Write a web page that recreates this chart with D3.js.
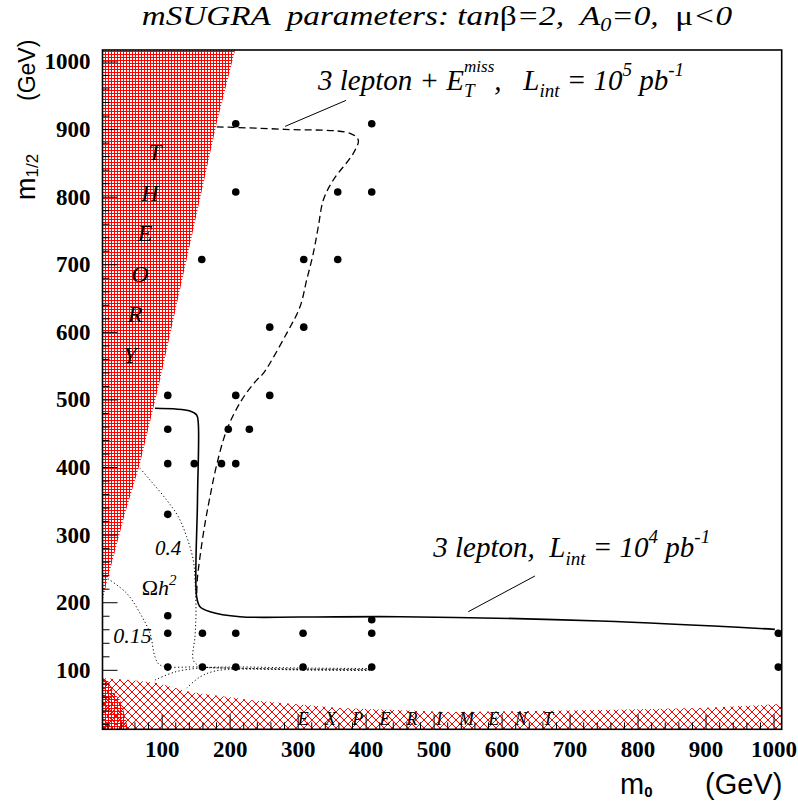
<!DOCTYPE html>
<html>
<head>
<meta charset="utf-8">
<script src="https://cdn.jsdelivr.net/npm/d3@7"></script>
<style>
  body { margin: 0; background: #fff; }
  svg text { white-space: pre; }
</style>
</head>
<body>
<svg id="chart" width="798" height="803"></svg>
<script>
// axis ticks (GeV)
const xTicks = [100, 200, 300, 400, 500, 600, 700, 800, 900, 1000];
const yTicks = [100, 200, 300, 400, 500, 600, 700, 800, 900, 1000];
const minorTicks = d3.range(20, 1001, 20).filter(d => d % 100 !== 0);

// simulated points [m0, m1/2]
const points = [
  [209, 908], [409, 908],
  [209, 807], [359, 807], [409, 807],
  [159, 707], [309, 707], [359, 707],
  [259, 607], [309, 607],
  [109, 506], [209, 506], [259, 506],
  [109, 456], [198, 456], [229, 456],
  [109, 405], [148, 405], [188, 405], [209, 405],
  [109, 330],
  [109, 180], [409, 174],
  [109, 154], [160, 154], [209, 154], [308, 154], [409, 154], [1007, 154],
  [109, 104], [160, 104], [209, 104], [308, 104], [409, 104], [1007, 104]
];

// theoretically excluded region (upper left) and corner
const theoryRegion = [[13, 1017], [208, 1017], [181, 909], [97.6, 528.7], [68.2, 405.5],
  [46.1, 331.5], [19.2, 229.7], [13, 200.8]];
const theoryCorner = [[13, 12], [13, 87.9], [21.1, 83.4], [28.4, 67.2], [38.7, 55.3],
  [44.6, 37.6], [50.5, 12]];

// experimentally excluded region (bottom), upper edge
const experimentEdge = [[13, 87.9], [53, 85], [93, 80.5], [142, 67.2], [230, 55.3],
  [362, 43.5], [524, 37.6], [745, 40.5], [892, 43.5], [1012, 49.4]];

// 3 lepton, L = 10^4 pb^-1 (solid)
const lepton3 = [[90.2, 486.9], [141.7, 482.9], [151.5, 477], [153.9, 464.7], [152.7, 351],
  [151.5, 208], [156.4, 193.4], [171.1, 186], [215.2, 178.6], [303.4, 178.1],
  [450.6, 178.6], [744.7, 172.2], [1002, 159.9]];

// 3 lepton + ETmiss, L = 10^5 pb^-1 (dashed)
const lepton3Miss = [[181, 903.4], [205.4, 902.5], [281.4, 899.6], [377, 893.7], [389.2, 883.8],
  [381.9, 864.1], [352.5, 824.7], [337.8, 795.1], [330.4, 755.5], [323, 716.1],
  [313.3, 676.7], [303.5, 637.1], [283.9, 597.8], [249.5, 538.6], [239.8, 528.7],
  [217.7, 499.1], [195.7, 454.7], [180.9, 403], [171.1, 356.1], [163.8, 316.7],
  [156.4, 267.3], [152.4, 232.9], [151.5, 208.2]];

// Omega h^2 contours (dotted)
const omega04 = [[68.2, 398.1], [82.9, 380.8], [107.4, 351.2], [124.5, 326.5], [136.8, 296.9],
  [146.5, 262.4], [149, 232.9], [150.5, 183.6], [149, 149], [146.5, 114.5],
  [156.4, 105.6], [207.9, 102.7], [303.5, 101.2], [406.4, 100.5]];
const omega015 = [[16.7, 237.7], [48.6, 213.2], [68.2, 183.6], [82.9, 154], [90.2, 119.4],
  [97.6, 107.1], [156.4, 104.2], [207.9, 101.9], [303.5, 100.5], [406.4, 99.7]];
const omegaLowA = [[90.2, 84.9], [119.6, 96.8], [156.4, 102.7], [207.9, 104.2], [303.5, 102.7], [406.4, 101.9]];
const omegaLowB = [[136.8, 73.1], [156.4, 89.4], [178.5, 98.2], [219.6, 101.2], [303.5, 99.7], [406.4, 98.9]];

// label leader lines
const leader4 = [[551, 186], [649, 238.8]];
const leader5 = [[281.6, 904], [371.3, 942.5]];

const SERIF = "Liberation Serif, Times New Roman, Times, serif";
const SANS = "Liberation Sans, Arial, Helvetica, sans-serif";

const svg = d3.select("#chart");
const x = d3.scaleLinear().domain([13, 1012]).range([102.5, 781.7]);
const y = d3.scaleLinear().domain([12, 1017]).range([729.3, 50]);
const [x0, x1] = x.range();
const [y0, y1] = y.range();

// patterns
const defs = svg.append("defs");
const grid = defs.append("pattern").attr("id", "grid")
  .attr("patternUnits", "userSpaceOnUse").attr("width", 3).attr("height", 3);
grid.append("path").attr("d", "M0,0.5H3M0.5,0V3")
  .attr("stroke", "#ff0000").attr("stroke-width", 1).attr("shape-rendering", "crispEdges");
const cross = defs.append("pattern").attr("id", "cross")
  .attr("patternUnits", "userSpaceOnUse").attr("width", 8).attr("height", 8);
cross.append("path").attr("d", "M0,0L8,8M8,0L0,8")
  .attr("stroke", "#ff0000").attr("stroke-width", 1);

defs.append("clipPath").attr("id", "plotClip").append("rect")
  .attr("x", x0).attr("y", y1).attr("width", x1 - x0).attr("height", y0 - y1);

const plot = svg.append("g").attr("clip-path", "url(#plotClip)");

const area = d3.line().x(d => x(d[0])).y(d => y(d[1]));
const smooth = d3.line().x(d => x(d[0])).y(d => y(d[1])).curve(d3.curveCatmullRom.alpha(0.5));

// experiment region
const expPoly = experimentEdge.concat([[1012, 12], [13, 12]]);
plot.append("path").attr("d", area(expPoly) + "Z").attr("fill", "url(#cross)");

// theory regions
plot.append("path").attr("d", area(theoryRegion) + "Z").attr("fill", "url(#grid)");
plot.append("path").attr("d", area(theoryCorner) + "Z").attr("fill", "url(#grid)");

// contours
[omega04, omega015, omegaLowA, omegaLowB].forEach(c => {
  plot.append("path").attr("d", smooth(c)).attr("fill", "none")
    .attr("stroke", "#000").attr("stroke-width", 1).attr("stroke-dasharray", "1.2,2.4");
});
plot.append("path").attr("d", smooth(lepton3Miss)).attr("fill", "none")
  .attr("stroke", "#000").attr("stroke-width", 1.3).attr("stroke-dasharray", "7,4");
plot.append("path").attr("d", smooth(lepton3)).attr("fill", "none")
  .attr("stroke", "#000").attr("stroke-width", 1.6);

[leader4, leader5].forEach(l => {
  plot.append("path").attr("d", area(l)).attr("stroke", "#000").attr("stroke-width", 1);
});

// points
plot.selectAll("circle.pt").data(points).enter().append("circle")
  .attr("class", "pt")
  .attr("cx", d => x(d[0])).attr("cy", d => y(d[1])).attr("r", 3.8).attr("fill", "#000");

// rich text helper: pieces laid out one after another
function rich(parent, px, py, size, parts) {
  let cx = px, held = 0;
  parts.forEach(p => {
    const el = parent.append("text")
      .attr("x", cx).attr("y", py + (p.dy || 0))
      .style("font-family", p.fam || SERIF)
      .style("font-style", p.up ? "normal" : "italic")
      .style("font-weight", p.weight || "normal")
      .style("font-size", (p.size || size) + "px")
      .attr("fill", "#000")
      .text(p.t);
    const w = el.node().getComputedTextLength();
    if (p.stack) { held = w; }
    else { cx += Math.max(w, held); held = 0; }
  });
}

// title (reference glyphs are wider than Times, so stretch horizontally)
const titleG = svg.append("g").attr("transform", "translate(141.7,0) scale(1.23,1) translate(-141.7,0)");
rich(titleG, 141.7, 25, 27, [
  {t: "mSUGRA  parameters: tan"}, {t: "β", up: true}, {t: "=2,  A"},
  {t: "0", size: 18, dy: 6}, {t: "=0,  "}, {t: "μ", up: true}, {t: "<0"}
]);

// curve labels
rich(svg, 318, 90, 29, [
  {t: "3 lepton + E"}, {t: "miss", size: 17, dy: -18, stack: true}, {t: "T", size: 19, dy: 7},
  {t: ",   L"}, {t: "int", size: 19, dy: 7}, {t: " = 10"}, {t: "5", size: 19, dy: -14},
  {t: " pb"}, {t: "-1", size: 19, dy: -14}
]);
rich(svg, 433.3, 556.7, 29, [
  {t: "3 lepton,  L"}, {t: "int", size: 19, dy: 8}, {t: " = 10"}, {t: "4", size: 19, dy: -14},
  {t: " pb"}, {t: "-1", size: 19, dy: -14}
]);
rich(svg, 155, 555, 21, [{t: "0.4"}]);
rich(svg, 113.3, 643.3, 22, [{t: "0.15"}]);
rich(svg, 141.7, 595, 22, [{t: "Ω", up: true}, {t: "h"}, {t: "2", size: 15, dy: -10}]);

// region names
const theoryLetters = "THEORY".split("");
svg.selectAll("text.th").data(theoryLetters).enter().append("text")
  .attr("class", "th")
  .attr("x", (d, i) => 155 - i * 5).attr("y", (d, i) => 160 + i * 40.6)
  .attr("text-anchor", "middle").style("font-family", SERIF).style("font-style", "italic")
  .style("font-size", "24px").text(d => d);
const expLetters = "EXPERIMENT".split("");
svg.selectAll("text.ex").data(expLetters).enter().append("text")
  .attr("class", "ex")
  .attr("x", (d, i) => 303.3 + i * 27.2).attr("y", 725)
  .attr("text-anchor", "middle").style("font-family", SERIF).style("font-style", "italic")
  .style("font-size", "18px").text(d => d);

// axes (ticks inside the frame)
function styleAxis(g) {
  g.select(".domain").remove();
  g.selectAll("line").attr("stroke", "#000").attr("stroke-width", 1);
  g.selectAll("text").style("font-family", SERIF).style("font-weight", "bold")
    .style("font-size", "23px").attr("fill", "#000");
}
svg.append("g").attr("transform", `translate(0,${y0})`)
  .call(d3.axisBottom(x).tickValues(minorTicks).tickSize(-7).tickFormat(""))
  .call(styleAxis);
svg.append("g").attr("transform", `translate(0,${y0})`)
  .call(d3.axisBottom(x).tickValues(xTicks).tickSize(-15).tickPadding(11).tickFormat(d3.format("d")))
  .call(styleAxis);
svg.append("g").attr("transform", `translate(${x0},0)`)
  .call(d3.axisLeft(y).tickValues(minorTicks).tickSize(-7).tickFormat(""))
  .call(styleAxis);
svg.append("g").attr("transform", `translate(${x0},0)`)
  .call(d3.axisLeft(y).tickValues(yTicks).tickSize(-15).tickPadding(12).tickFormat(d3.format("d")))
  .call(styleAxis);

// frame
svg.append("rect").attr("x", x0).attr("y", y1).attr("width", x1 - x0).attr("height", y0 - y1)
  .attr("fill", "none").attr("stroke", "#000").attr("stroke-width", 1.6);

// axis titles
rich(svg, 620, 794, 29, [
  {t: "m", up: true, fam: SANS}, {t: "0", up: true, fam: SANS, weight: "bold", size: 15, dy: 3}
]);
rich(svg, 705, 794, 29, [{t: "(GeV)", up: true, fam: SANS}]);
const yTitle = svg.append("g").attr("transform", "translate(35,200) rotate(-90)");
rich(yTitle, 0, 0, 27, [
  {t: "m", up: true, fam: SANS}, {t: "1/2", up: true, fam: SANS, size: 17, dy: 3}
]);
rich(yTitle, 99, 0, 23, [{t: "(GeV)", up: true, fam: SANS}]);
</script>
</body>
</html>
